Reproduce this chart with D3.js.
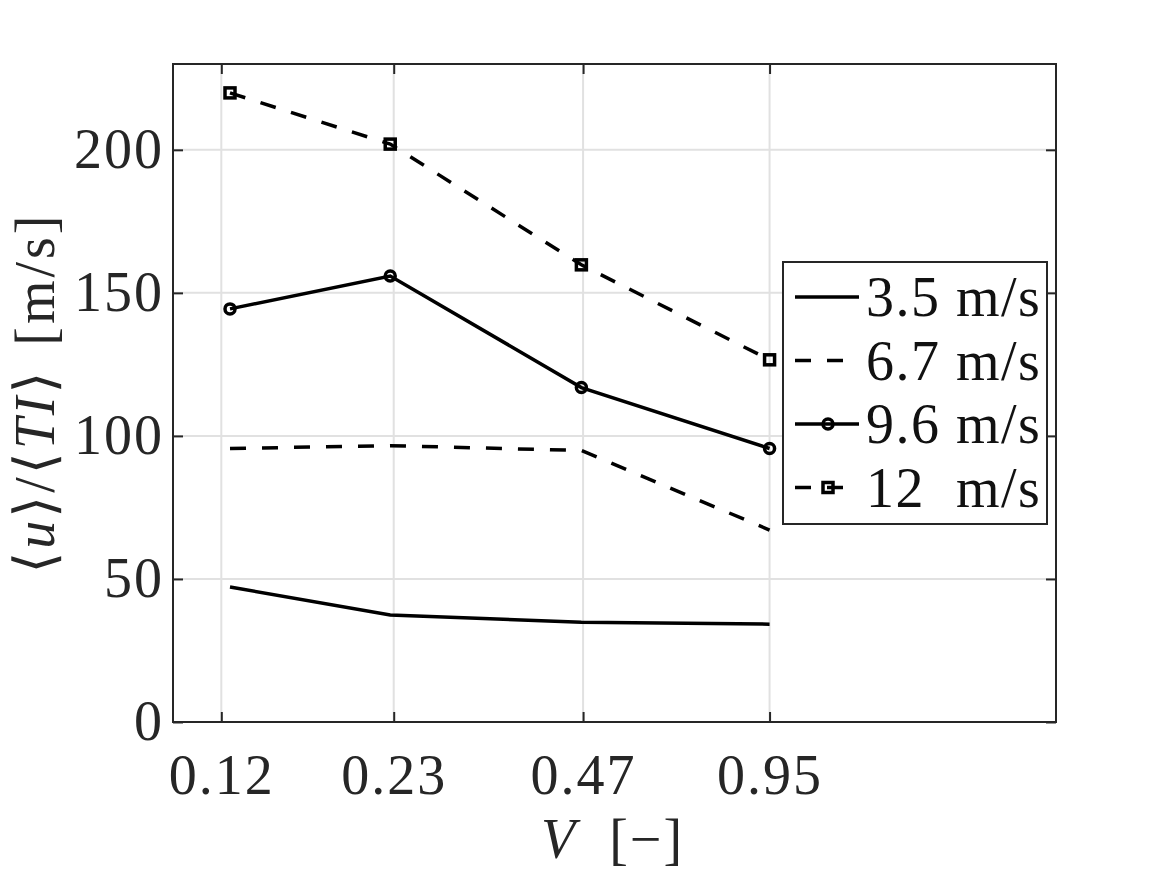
<!DOCTYPE html>
<html lang="en">

<head>
  <meta charset="UTF-8">
  <title>u/TI vs V</title>
  <script src="https://d3js.org/d3.v7.min.js"></script>
  <style>
    body { margin: 0; background: #fff; }
    text { font-family: "Liberation Serif", "DejaVu Serif", serif; fill: #262626; }
  </style>
</head>

<body>
<div id="my_dataviz"></div>

<script>
  // data
  var vValues = [0.124, 0.227, 0.467, 0.95];
  var xTicks = [0.12, 0.23, 0.47, 0.95];
  var xTickLabels = ["0.12", "0.23", "0.47", "0.95"];
  var yTicks = [0, 50, 100, 150, 200];

  var seriesNames = ["3.5 m/s", "6.7 m/s", "9.6 m/s", "12  m/s"];
  var u35 = [47.2, 37.4, 34.9, 34.2];
  var u67 = [95.6, 96.6, 94.9, 67.1];
  var u96 = [144.4, 155.9, 116.9, 95.6];
  var u12 = [219.9, 202.0, 159.8, 126.6];

  var series = [
    { name: seriesNames[0], values: u35, dash: null, marker: null },
    { name: seriesNames[1], values: u67, dash: "16,16", marker: null },
    { name: seriesNames[2], values: u96, dash: null, marker: "circle" },
    { name: seriesNames[3], values: u12, dash: "16,16", marker: "square" }
  ];

  // dimensions and margins
  var margin = { top: 64, right: 111, bottom: 153, left: 173 },
    width = 1167 - margin.left - margin.right,
    height = 875 - margin.top - margin.bottom;

  var svg = d3.select("#my_dataviz")
    .append("svg")
    .attr("width", 1167)
    .attr("height", 875)
    .append("g")
    .attr("transform", "translate(" + margin.left + "," + margin.top + ")");

  var x = d3.scaleLog()
    .domain([0.1, 2.8])
    .range([0, width]);

  var y = d3.scaleLinear()
    .domain([0, 230])
    .range([height, 0]);

  // grid
  svg.append("g")
    .selectAll("line.gx")
    .data(xTicks)
    .enter()
    .append("line")
    .attr("x1", function(d) { return x(d); })
    .attr("x2", function(d) { return x(d); })
    .attr("y1", 0)
    .attr("y2", height)
    .style("stroke", "#e1e1e1")
    .style("stroke-width", 2);

  svg.append("g")
    .selectAll("line.gy")
    .data(yTicks)
    .enter()
    .append("line")
    .attr("x1", 0)
    .attr("x2", width)
    .attr("y1", function(d) { return y(d); })
    .attr("y2", function(d) { return y(d); })
    .style("stroke", "#e1e1e1")
    .style("stroke-width", 2);

  // axes (ticks inside, box on all sides)
  function styleAxis(g) {
    g.select(".domain").remove();
    g.selectAll(".tick line").style("stroke", "#262626").style("stroke-width", 2);
    g.selectAll(".tick text").style("font-size", "56px").style("fill", "#262626")
      .style("letter-spacing", "2px")
      .attr("font-family", null);
  }

  svg.append("g")
    .attr("transform", "translate(0," + height + ")")
    .call(d3.axisBottom(x).tickValues(xTicks)
      .tickFormat(function(d, i) { return xTickLabels[i]; })
      .tickSizeInner(-10).tickSizeOuter(0).tickPadding(32))
    .call(styleAxis);

  svg.append("g")
    .call(d3.axisTop(x).tickValues(xTicks).tickFormat("")
      .tickSizeInner(-10).tickSizeOuter(0))
    .call(styleAxis);

  svg.append("g")
    .call(d3.axisLeft(y).tickValues(yTicks)
      .tickSizeInner(-10).tickSizeOuter(0).tickPadding(9))
    .call(styleAxis);

  svg.append("g")
    .attr("transform", "translate(" + width + ",0)")
    .call(d3.axisRight(y).tickValues(yTicks).tickFormat("")
      .tickSizeInner(-10).tickSizeOuter(0))
    .call(styleAxis);

  svg.append("rect")
    .attr("width", width)
    .attr("height", height)
    .style("fill", "none")
    .style("stroke", "#262626")
    .style("stroke-width", 2);

  // lines
  var line = d3.line()
    .x(function(d, i) { return x(vValues[i]); })
    .y(function(d) { return y(d); });

  function drawMarker(g, type, cx, cy) {
    if (type === "circle") {
      g.append("circle")
        .attr("cx", cx).attr("cy", cy).attr("r", 5)
        .style("fill", "none").style("stroke", "#000").style("stroke-width", 3.5);
    } else if (type === "square") {
      g.append("rect")
        .attr("x", cx - 5).attr("y", cy - 5).attr("width", 10).attr("height", 10)
        .style("fill", "none").style("stroke", "#000").style("stroke-width", 3.5);
    }
  }

  series.forEach(function(s) {
    var g = svg.append("g");
    g.append("path")
      .datum(s.values)
      .attr("d", line)
      .style("fill", "none")
      .style("stroke", "#000")
      .style("stroke-width", 3.5)
      .style("stroke-dasharray", s.dash);
    if (s.marker) {
      s.values.forEach(function(v, i) {
        drawMarker(g, s.marker, x(vValues[i]), y(v));
      });
    }
  });

  // legend
  var legend = svg.append("g")
    .attr("transform", "translate(" + (783 - margin.left) + "," + (262 - margin.top) + ")");

  legend.append("rect")
    .attr("width", 264)
    .attr("height", 262)
    .style("fill", "#fff")
    .style("stroke", "#262626")
    .style("stroke-width", 2);

  series.forEach(function(s, i) {
    var ly = 35 + i * 63.5;
    legend.append("line")
      .attr("x1", 12).attr("x2", 76)
      .attr("y1", ly).attr("y2", ly)
      .style("stroke", "#000")
      .style("stroke-width", 3.5)
      .style("stroke-dasharray", s.dash);
    if (s.marker) drawMarker(legend, s.marker, 45, ly);
    legend.append("text")
      .attr("x", 83)
      .attr("y", ly + 19)
      .attr("xml:space", "preserve")
      .style("white-space", "pre")
      .style("font-size", "56px")
      .style("letter-spacing", "1.5px")
      .style("fill", "#111")
      .text(s.name);
  });

  // axis labels
  var xl = svg.append("text")
    .attr("x", width / 2 - 2)
    .attr("y", height + 136)
    .attr("text-anchor", "middle")
    .attr("xml:space", "preserve")
    .style("white-space", "pre")
    .style("font-size", "56px")
    .style("letter-spacing", "2px");
  xl.append("tspan").style("font-style", "italic").text("V");
  xl.append("tspan").text("  [\u2212]");

  var yl = svg.append("text")
    .attr("transform", "translate(" + (-119) + "," + (height / 2 + 0) + ") rotate(-90)")
    .attr("text-anchor", "middle")
    .style("font-size", "56px")
    .style("letter-spacing", "3px")
    .style("word-spacing", "6px");
  yl.append("tspan").text("\u27E8");
  yl.append("tspan").style("font-style", "italic").text("u");
  yl.append("tspan").text("\u27E9/\u27E8");
  yl.append("tspan").style("font-style", "italic").text("TI");
  yl.append("tspan").text("\u27E9 [m/s]");
</script>
</body>

</html>
